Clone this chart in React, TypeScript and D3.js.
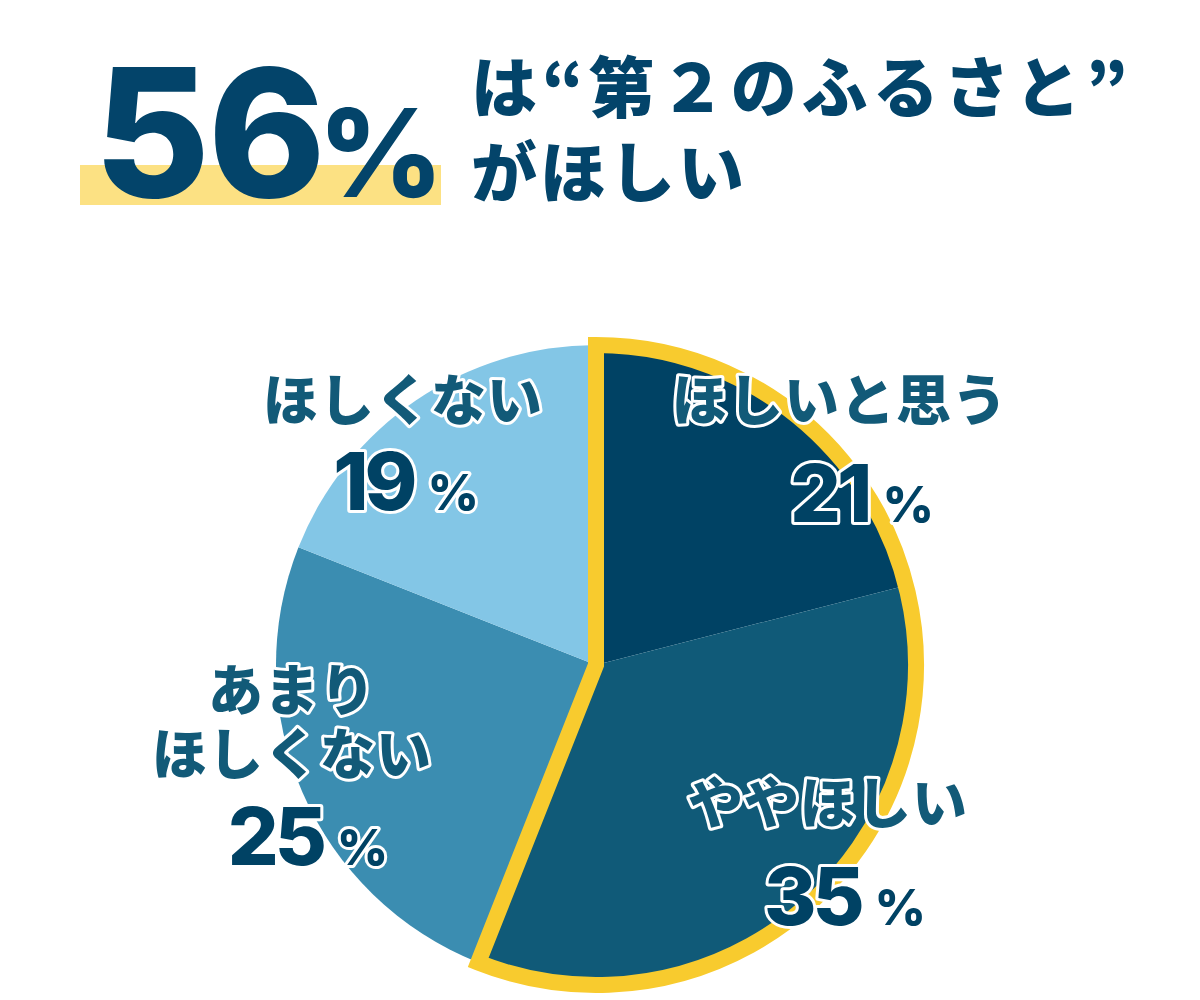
import React from 'react';
import * as d3 from 'd3';

const categories = ['ほしいと思う', 'ややほしい', 'あまりほしくない', 'ほしくない'];
const values = [21, 35, 25, 19];
const sliceColors = ['#004264', '#105A78', '#3B8DB1', '#83C6E6'];
const labelLines = [['ほしいと思う'], ['ややほしい'], ['あまり', 'ほしくない'], ['ほしくない']];
const highlightShare = 56;

// layout (label anchor centers) — not data
const labelLayout = [
  { x: 840, y: 400, nx: 860, ny: 522 },
  { x: 828, y: 803, nx: 843, ny: 925 },
  { x: 292, y: 690, nx: 306, ny: 865 },
  { x: 403, y: 400, nx: 404, ny: 510 },
];

const W = 1200;
const H = 1000;
const cx = 596;
const cy = 665;
const R = 320;

const NAVY = '#03446A';
const TEAL_TEXT = '#125A78';
const JP = '"Noto Sans CJK JP", "Noto Sans", sans-serif';
const NUM = 'Inter, "Open Sans", sans-serif';

export default function App() {
  const pie = d3.pie<number>().sort(null).value((d) => d).startAngle(0).endAngle(2 * Math.PI);
  const arcs = pie(values);
  const arc = d3.arc<d3.PieArcDatum<number>>().innerRadius(0).outerRadius(R);
  const total = d3.sum(values);
  const hlArc = d3.arc()({
    innerRadius: 0,
    outerRadius: R,
    startAngle: 0,
    endAngle: (highlightShare / total) * 2 * Math.PI,
  } as any) as string;

  const jpFs = 55;
  const lineH = 64;
  const big = String(highlightShare).split('');

  return (
    <svg width={W} height={H} style={{ position: 'absolute', left: 0, top: 0, background: '#fff' }}>
      {/* Title */}
      <rect x={80} y={165} width={361} height={40} fill="#FCE183" />
      <text y={197} fill={NAVY} fontFamily={NUM} fontWeight={800} fontSize={178}>
        <tspan x={94}>{big[0]}</tspan>
        <tspan x={208}>{big[1]}</tspan>
        <tspan x={318} fontSize={122}>%</tspan>
      </text>
      <text x={471} y={112} fill={NAVY} fontFamily={JP} fontWeight={900} fontSize={66} letterSpacing={5}>
        は“第２のふるさと”
      </text>
      <text x={471} y={197} fill={NAVY} fontFamily={JP} fontWeight={900} fontSize={66} letterSpacing={3}>
        がほしい
      </text>

      {/* Pie */}
      <g transform={`translate(${cx},${cy})`}>
        {arcs.map((a, i) => (
          <path key={categories[i]} d={arc(a) as string} fill={sliceColors[i]} />
        ))}
        <path d={hlArc} fill="none" stroke="#F8CB2E" strokeWidth={16} strokeLinejoin="miter" strokeMiterlimit={10} />
      </g>

      {/* Labels */}
      {labelLayout.map((p, i) => (
        <g key={categories[i]}>
          {labelLines[i].map((line, j) => (
            <text
              key={j}
              x={p.x}
              y={p.y + j * lineH + 0.37 * jpFs}
              textAnchor="middle"
              fill={TEAL_TEXT}
              fontFamily={JP}
              fontWeight={900}
              fontSize={jpFs}
              letterSpacing={1}
              stroke="#fff"
              strokeWidth={6}
              strokeLinejoin="round"
              paintOrder="stroke"
            >
              {line}
            </text>
          ))}
          <text
            x={p.nx}
            y={p.ny}
            textAnchor="middle"
            fill="#004264"
            fontFamily={NUM}
            fontWeight={800}
            fontSize={80}
            letterSpacing={-4}
            stroke="#fff"
            strokeWidth={6}
            strokeLinejoin="round"
            paintOrder="stroke"
          >
            {values[i]}
            <tspan fontSize={50} dx={14}>%</tspan>
          </text>
        </g>
      ))}
    </svg>
  );
}
